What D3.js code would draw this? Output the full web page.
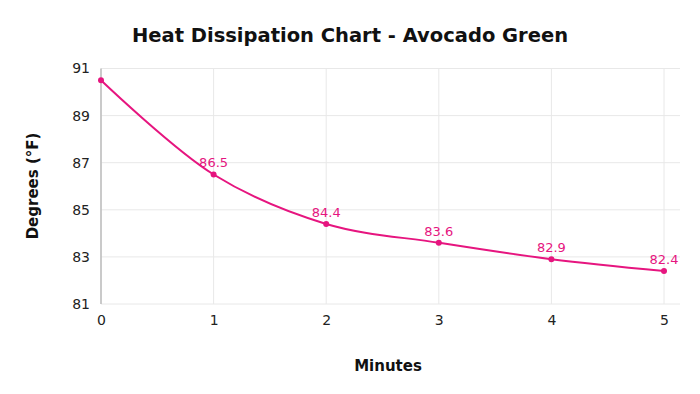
<!DOCTYPE html>
<html><head><meta charset="utf-8">
<script src="https://cdn.jsdelivr.net/npm/d3@7"></script>
<style>body{margin:0;background:#fff}svg{display:block}</style>
</head><body>
<script>
const minutes = [0, 1, 2, 3, 4, 5];
const degrees = [90.5, 86.5, 84.4, 83.6, 82.9, 82.4];
const showLabel = [false, true, true, true, true, true];
const yTicks = [81, 83, 85, 87, 89, 91];
const xTicks = [0, 1, 2, 3, 4, 5];

const W = 700, H = 394;
const color = "#e6157f";
const font = "Verdana, 'DejaVu Sans', sans-serif";
const svg = d3.select("body").append("svg").attr("width", W).attr("height", H);

const x = d3.scaleLinear().domain([0, 5]).range([101, 664]);
const y = d3.scaleLinear().domain([81, 91]).range([304, 68.5]);

// grid
svg.append("g").selectAll("line").data(yTicks).join("line")
  .attr("x1", 101).attr("x2", 680).attr("y1", d => y(d)).attr("y2", d => y(d))
  .attr("stroke", "#e8e8e8").attr("stroke-width", 1);
svg.append("g").selectAll("line").data(xTicks).join("line")
  .attr("x1", d => x(d)).attr("x2", d => x(d)).attr("y1", 68.5).attr("y2", 304)
  .attr("stroke", "#e8e8e8").attr("stroke-width", 1);
svg.append("line").attr("x1", 101).attr("x2", 101).attr("y1", 68.5).attr("y2", 304)
  .attr("stroke", "#bdbdbd").attr("stroke-width", 1.5);

// axes
const yAxis = svg.append("g").attr("transform", "translate(101,0)")
  .call(d3.axisLeft(y).tickValues(yTicks).tickSize(0).tickPadding(11).tickFormat(d3.format("d")));
yAxis.select(".domain").remove();
yAxis.selectAll("text").attr("font-family", font).attr("font-size", 14).attr("fill", "#222");

const xAxis = svg.append("g").attr("transform", "translate(0,304)")
  .call(d3.axisBottom(x).tickValues(xTicks).tickSize(0).tickPadding(11).tickFormat(d3.format("d")));
xAxis.select(".domain").remove();
xAxis.selectAll("text").attr("font-family", font).attr("font-size", 14).attr("fill", "#222");

// line
const pts = minutes.map((m, i) => ({m, v: degrees[i], l: showLabel[i]}));
svg.append("path").datum(pts)
  .attr("d", d3.line().x(d => x(d.m)).y(d => y(d.v)).curve(d3.curveCatmullRom.alpha(0.5)))
  .attr("fill", "none").attr("stroke", color).attr("stroke-width", 2);
svg.append("g").selectAll("circle").data(pts).join("circle")
  .attr("cx", d => x(d.m)).attr("cy", d => y(d.v)).attr("r", 3).attr("fill", color);
svg.append("g").selectAll("text").data(pts.filter(d => d.l)).join("text")
  .attr("x", d => x(d.m)).attr("y", d => y(d.v) - 7)
  .attr("text-anchor", "middle").attr("font-family", font).attr("font-size", 13)
  .attr("fill", color).text(d => d.v.toFixed(1));

// titles
svg.append("text").attr("x", 350).attr("y", 42).attr("text-anchor", "middle")
  .attr("font-family", "Tahoma, 'DejaVu Sans', sans-serif").attr("font-weight", "bold")
  .attr("font-size", 19.5).attr("fill", "#111").text("Heat Dissipation Chart - Avocado Green");
svg.append("text").attr("x", 388).attr("y", 371).attr("text-anchor", "middle")
  .attr("font-family", "Tahoma, 'DejaVu Sans', sans-serif").attr("font-weight", "bold")
  .attr("font-size", 15).attr("fill", "#111").text("Minutes");
svg.append("text").attr("transform", "translate(38,186) rotate(-90)").attr("text-anchor", "middle")
  .attr("font-family", "Tahoma, 'DejaVu Sans', sans-serif").attr("font-weight", "bold")
  .attr("font-size", 15).attr("fill", "#111").text("Degrees (°F)");
</script>
</body></html>
